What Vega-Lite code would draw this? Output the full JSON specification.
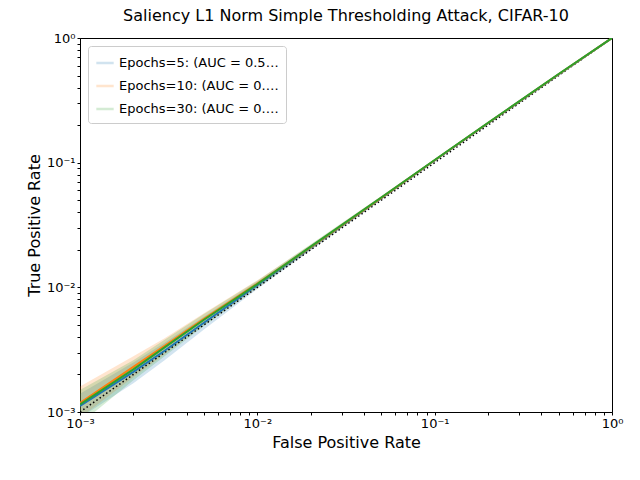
{
  "$schema": "https://vega.github.io/schema/vega-lite/v6.json",
  "autosize": {"type": "none"},
  "padding": {"left": 80, "top": 38, "right": 28, "bottom": 68},
  "width": 532,
  "height": 374,
  "background": "white",
  "config": {
    "font": "DejaVu Sans",
    "view": {"stroke": "black", "strokeWidth": 1}
  },
  "title": {"text": "Saliency L1 Norm Simple Thresholding Attack, CIFAR-10", "fontSize": 16, "fontWeight": "normal", "offset": 8, "color": "black"},
  "datasets": {
    "roc": [
      {"fpr": 0.001, "tpr": 0.00112, "lo": 0.0009, "hi": 0.0014, "s": "Epochs=5: (AUC = 0.54 ± 0.01)"},
      {"fpr": 0.002, "tpr": 0.0021, "lo": 0.0017, "hi": 0.0025, "s": "Epochs=5: (AUC = 0.54 ± 0.01)"},
      {"fpr": 0.003, "tpr": 0.0031, "lo": 0.0026, "hi": 0.0036, "s": "Epochs=5: (AUC = 0.54 ± 0.01)"},
      {"fpr": 0.005, "tpr": 0.0052, "lo": 0.0046, "hi": 0.0058, "s": "Epochs=5: (AUC = 0.54 ± 0.01)"},
      {"fpr": 0.01, "tpr": 0.0104, "lo": 0.0097, "hi": 0.0111, "s": "Epochs=5: (AUC = 0.54 ± 0.01)"},
      {"fpr": 0.02, "tpr": 0.0208, "lo": 0.0198, "hi": 0.0218, "s": "Epochs=5: (AUC = 0.54 ± 0.01)"},
      {"fpr": 0.05, "tpr": 0.052, "lo": 0.0505, "hi": 0.0535, "s": "Epochs=5: (AUC = 0.54 ± 0.01)"},
      {"fpr": 0.1, "tpr": 0.104, "lo": 0.102, "hi": 0.106, "s": "Epochs=5: (AUC = 0.54 ± 0.01)"},
      {"fpr": 0.2, "tpr": 0.207, "lo": 0.204, "hi": 0.21, "s": "Epochs=5: (AUC = 0.54 ± 0.01)"},
      {"fpr": 0.5, "tpr": 0.51, "lo": 0.505, "hi": 0.515, "s": "Epochs=5: (AUC = 0.54 ± 0.01)"},
      {"fpr": 1, "tpr": 1, "lo": 1, "hi": 1, "s": "Epochs=5: (AUC = 0.54 ± 0.01)"},
      {"fpr": 0.001, "tpr": 0.00118, "lo": 0.0009, "hi": 0.0016, "s": "Epochs=10: (AUC = 0.55 ± 0.00)"},
      {"fpr": 0.002, "tpr": 0.0023, "lo": 0.0019, "hi": 0.0028, "s": "Epochs=10: (AUC = 0.55 ± 0.00)"},
      {"fpr": 0.003, "tpr": 0.0034, "lo": 0.0029, "hi": 0.0039, "s": "Epochs=10: (AUC = 0.55 ± 0.00)"},
      {"fpr": 0.005, "tpr": 0.0056, "lo": 0.005, "hi": 0.0062, "s": "Epochs=10: (AUC = 0.55 ± 0.00)"},
      {"fpr": 0.01, "tpr": 0.0107, "lo": 0.01, "hi": 0.0114, "s": "Epochs=10: (AUC = 0.55 ± 0.00)"},
      {"fpr": 0.02, "tpr": 0.021, "lo": 0.02, "hi": 0.022, "s": "Epochs=10: (AUC = 0.55 ± 0.00)"},
      {"fpr": 0.05, "tpr": 0.0522, "lo": 0.0507, "hi": 0.0537, "s": "Epochs=10: (AUC = 0.55 ± 0.00)"},
      {"fpr": 0.1, "tpr": 0.1045, "lo": 0.1025, "hi": 0.1065, "s": "Epochs=10: (AUC = 0.55 ± 0.00)"},
      {"fpr": 0.2, "tpr": 0.208, "lo": 0.205, "hi": 0.211, "s": "Epochs=10: (AUC = 0.55 ± 0.00)"},
      {"fpr": 0.5, "tpr": 0.512, "lo": 0.507, "hi": 0.517, "s": "Epochs=10: (AUC = 0.55 ± 0.00)"},
      {"fpr": 1, "tpr": 1, "lo": 1, "hi": 1, "s": "Epochs=10: (AUC = 0.55 ± 0.00)"},
      {"fpr": 0.001, "tpr": 0.00115, "lo": 0.0008, "hi": 0.0015, "s": "Epochs=30: (AUC = 0.56 ± 0.01)"},
      {"fpr": 0.002, "tpr": 0.0022, "lo": 0.0018, "hi": 0.0026, "s": "Epochs=30: (AUC = 0.56 ± 0.01)"},
      {"fpr": 0.003, "tpr": 0.0033, "lo": 0.0028, "hi": 0.0038, "s": "Epochs=30: (AUC = 0.56 ± 0.01)"},
      {"fpr": 0.005, "tpr": 0.0055, "lo": 0.0049, "hi": 0.0061, "s": "Epochs=30: (AUC = 0.56 ± 0.01)"},
      {"fpr": 0.01, "tpr": 0.0106, "lo": 0.0099, "hi": 0.0113, "s": "Epochs=30: (AUC = 0.56 ± 0.01)"},
      {"fpr": 0.02, "tpr": 0.0212, "lo": 0.0202, "hi": 0.0222, "s": "Epochs=30: (AUC = 0.56 ± 0.01)"},
      {"fpr": 0.05, "tpr": 0.0525, "lo": 0.051, "hi": 0.054, "s": "Epochs=30: (AUC = 0.56 ± 0.01)"},
      {"fpr": 0.1, "tpr": 0.105, "lo": 0.103, "hi": 0.107, "s": "Epochs=30: (AUC = 0.56 ± 0.01)"},
      {"fpr": 0.2, "tpr": 0.209, "lo": 0.206, "hi": 0.212, "s": "Epochs=30: (AUC = 0.56 ± 0.01)"},
      {"fpr": 0.5, "tpr": 0.514, "lo": 0.509, "hi": 0.519, "s": "Epochs=30: (AUC = 0.56 ± 0.01)"},
      {"fpr": 1, "tpr": 1, "lo": 1, "hi": 1, "s": "Epochs=30: (AUC = 0.56 ± 0.01)"}
    ],
    "diag": [{"fpr": 0.001, "tpr": 0.001}, {"fpr": 1, "tpr": 1}]
  },
  "layer": [
    {
      "data": {"name": "roc"},
      "mark": {"type": "area", "opacity": 0.2, "clip": true},
      "encoding": {
        "x": {"field": "fpr", "type": "quantitative"},
        "y": {"field": "lo", "type": "quantitative"},
        "y2": {"field": "hi"},
        "color": {"field": "s", "type": "nominal"}
      }
    },
    {
      "data": {"name": "diag"},
      "mark": {"type": "line", "color": "black", "strokeDash": [1.5, 2.5], "strokeWidth": 1.5, "clip": true},
      "encoding": {
        "x": {"field": "fpr", "type": "quantitative"},
        "y": {"field": "tpr", "type": "quantitative"}
      }
    },
    {
      "data": {"name": "roc"},
      "mark": {"type": "line", "strokeWidth": 2, "clip": true},
      "encoding": {
        "x": {
          "field": "fpr", "type": "quantitative", "title": "False Positive Rate",
          "scale": {"type": "log", "domain": [0.001, 1], "nice": false},
          "axis": {
            "values": [0.001, 0.002, 0.003, 0.004, 0.005, 0.006, 0.007, 0.008, 0.009, 0.01, 0.02, 0.03, 0.04, 0.05, 0.06, 0.07, 0.08, 0.09, 0.1, 0.2, 0.3, 0.4, 0.5, 0.6, 0.7, 0.8, 0.9, 1],
            "labelExpr": "{'0.001':'10⁻³','0.01':'10⁻²','0.1':'10⁻¹','1':'10⁰'}[datum.label] || ''",
            "grid": false, "labelFontSize": 13, "titleFontSize": 16, "titleFontWeight": "normal",
            "tickColor": "black", "domainColor": "black", "labelColor": "black", "titleColor": "black", "labelFlush": false, "tickSize": 3
          }
        },
        "y": {
          "field": "tpr", "type": "quantitative", "title": "True Positive Rate",
          "scale": {"type": "log", "domain": [0.001, 1], "nice": false},
          "axis": {
            "values": [0.001, 0.002, 0.003, 0.004, 0.005, 0.006, 0.007, 0.008, 0.009, 0.01, 0.02, 0.03, 0.04, 0.05, 0.06, 0.07, 0.08, 0.09, 0.1, 0.2, 0.3, 0.4, 0.5, 0.6, 0.7, 0.8, 0.9, 1],
            "labelExpr": "{'0.001':'10⁻³','0.01':'10⁻²','0.1':'10⁻¹','1':'10⁰'}[datum.label] || ''",
            "grid": false, "labelFontSize": 13, "titleFontSize": 16, "titleFontWeight": "normal",
            "tickColor": "black", "domainColor": "black", "labelColor": "black", "titleColor": "black", "labelFlush": false, "tickSize": 3
          }
        },
        "color": {
          "field": "s", "type": "nominal",
          "scale": {"domain": ["Epochs=5: (AUC = 0.54 ± 0.01)", "Epochs=10: (AUC = 0.55 ± 0.00)", "Epochs=30: (AUC = 0.56 ± 0.01)"], "range": ["#1f77b4", "#ff7f0e", "#2ca02c"]},
          "legend": {
            "title": null, "orient": "top-left", "offset": 8,
            "symbolType": "stroke", "symbolStrokeWidth": 2.5, "symbolSize": 300, "symbolOpacity": 1,
            "labelFontSize": 13, "labelColor": "black",
            "strokeColor": "#cccccc", "fillColor": "white", "padding": 7, "cornerRadius": 3, "rowPadding": 6
          }
        }
      }
    }
  ]
}
